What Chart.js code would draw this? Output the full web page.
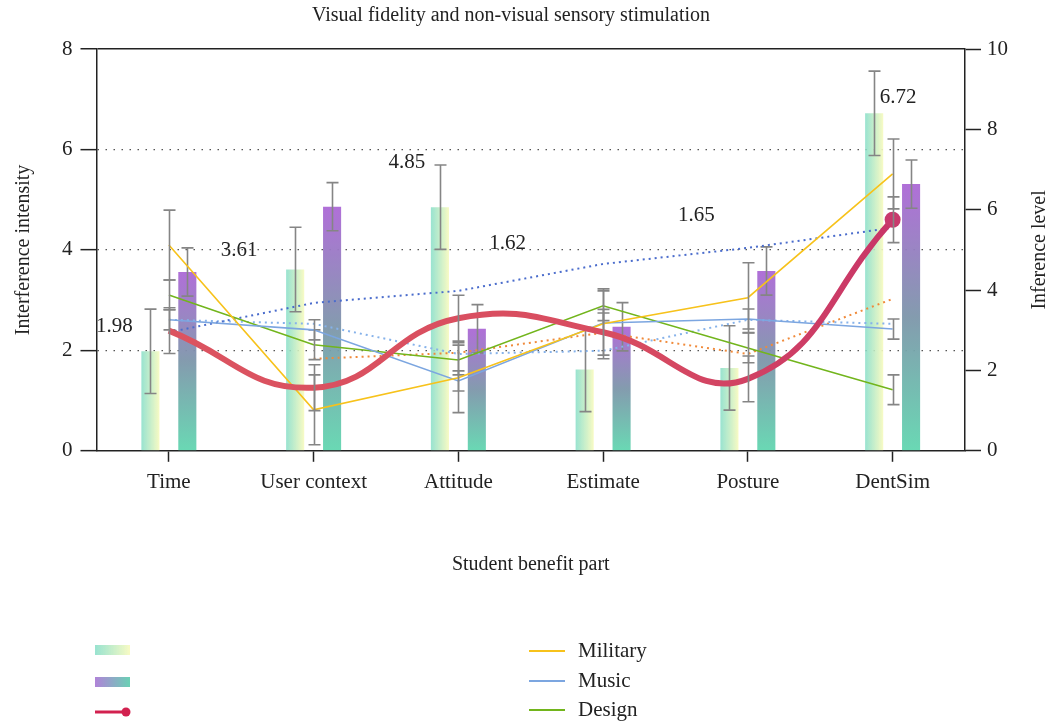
<!DOCTYPE html>
<html>
<head>
<meta charset="utf-8">
<script src="https://cdn.jsdelivr.net/npm/chart.js@4.4.0/dist/chart.umd.min.js"></script>
<style>
  html, body { margin: 0; padding: 0; background: #fff; }
</style>
</head>
<body>
<canvas id="chart" width="1048" height="723"></canvas>
<script>
// Chart data
const categories = ['Time', 'User context', 'Attitude', 'Estimate', 'Posture', 'DentSim'];

// bars, left axis (interference intensity)
const fidelityBars = [1.98, 3.61, 4.85, 1.62, 1.65, 6.72];
const fidelityErr = [0.84, 0.84, 0.84, 0.84, 0.84, 0.84];
const stimulationBars = [3.56, 4.86, 2.43, 2.47, 3.58, 5.31];
const stimulationErr = [0.48, 0.48, 0.48, 0.48, 0.48, 0.48];

// lines, right axis (inference level)
const redCurve = [2.99, 1.57, 3.30, 2.95, 1.79, 5.75];
const redErr = [0.57, 0.57, 0.57, 0.57, 0.57, 0.57];
const military = [5.12, 1.02, 1.82, 3.16, 3.81, 6.89];
const militaryErr = [0.87, 0.87, 0.87, 0.87, 0.87, 0.87];
const music = [3.26, 3.01, 1.74, 3.18, 3.28, 3.03];
const musicErr = [0.25, 0.25, 0.25, 0.25, 0.25, 0.25];
const design = [3.88, 2.64, 2.26, 3.61, 2.56, 1.52];
const designErr = [0.37, 0.37, 0.37, 0.37, 0.37, 0.37];
const blueDotted = [2.95, 3.68, 3.98, 4.65, 5.05, 5.55];
const skyDotted = [3.26, 3.16, 2.41, 2.49, 3.26, 3.16];
const orangeDotted = [null, 2.29, 2.44, 2.94, 2.41, 3.78];

const leftTicks = [0, 2, 4, 6, 8];
const rightTicks = [0, 2, 4, 6, 8, 10];

// value labels next to the first bar series (pixel offsets from bar top)
const labelOffsets = [[-36, -25], [-56, -19], [-33, -45], [-77, -126], [-33, -152], [24, -16]];

const serif = "'Liberation Serif', 'DejaVu Serif', serif";
Chart.defaults.font.family = serif;
Chart.defaults.color = '#222';

const errorSets = {};  // dataset index -> error array

// gradients per bar, set once the bars have their geometry
const barGradients = {
    id: 'barGradients',
    beforeDatasetsDraw(chart) {
        const ctx = chart.ctx;
        chart.data.datasets.forEach((ds, i) => {
            if (!ds.gradientKind) return;
            chart.getDatasetMeta(i).data.forEach(el => {
                let g;
                if (ds.gradientKind === 'horizontal') {
                    g = ctx.createLinearGradient(el.x - el.width / 2, 0, el.x + el.width / 2, 0);
                    g.addColorStop(0, 'rgba(135, 222, 200, 0.85)');
                    g.addColorStop(1, 'rgba(247, 250, 190, 0.9)');
                } else {
                    g = ctx.createLinearGradient(0, el.y, 0, el.base);
                    g.addColorStop(0, 'rgba(172, 104, 214, 0.95)');
                    g.addColorStop(0.5, 'rgba(125, 150, 170, 0.95)');
                    g.addColorStop(1, 'rgba(98, 214, 176, 0.95)');
                }
                el.options.backgroundColor = g;
            });
        });
    }
};

const errorBars = {
    id: 'errorBars',
    afterDatasetDraw(chart, args) {
        const errs = errorSets[args.index];
        if (!errs) return;
        const ds = chart.data.datasets[args.index];
        const yScale = chart.scales[args.meta.yAxisID];
        const ctx = chart.ctx;
        ctx.save();
        ctx.strokeStyle = '#858585';
        ctx.lineWidth = 1.6;
        args.meta.data.forEach((el, i) => {
            const v = ds.data[i];
            if (v == null) return;
            const top = yScale.getPixelForValue(v + errs[i]);
            const bot = yScale.getPixelForValue(v - errs[i]);
            const x = Math.round(el.x) + 0.5;
            ctx.beginPath();
            ctx.moveTo(x, top); ctx.lineTo(x, bot);
            ctx.moveTo(x - 6, top); ctx.lineTo(x + 6, top);
            ctx.moveTo(x - 6, bot); ctx.lineTo(x + 6, bot);
            ctx.stroke();
        });
        ctx.restore();
    }
};

const valueLabels = {
    id: 'valueLabels',
    afterDatasetsDraw(chart) {
        const ctx = chart.ctx;
        const meta = chart.getDatasetMeta(7);
        ctx.save();
        ctx.font = '21px ' + serif;
        ctx.fillStyle = '#222';
        ctx.textAlign = 'center';
        ctx.textBaseline = 'middle';
        meta.data.forEach((el, i) => {
            const o = labelOffsets[i];
            ctx.fillText(fidelityBars[i].toFixed(2), el.x + o[0], el.y + o[1]);
        });
        ctx.restore();
    }
};

const sideLegend = {
    id: 'sideLegend',
    afterDraw(chart) {
        const ctx = chart.ctx;
        ctx.save();
        // left column: swatches only
        let g = ctx.createLinearGradient(95, 0, 130, 0);
        g.addColorStop(0, 'rgba(135, 222, 200, 0.85)');
        g.addColorStop(1, 'rgba(247, 250, 190, 0.9)');
        ctx.fillStyle = g;
        ctx.fillRect(95, 645, 35, 10);
        g = ctx.createLinearGradient(95, 0, 130, 0);
        g.addColorStop(0, 'rgba(172, 124, 214, 0.95)');
        g.addColorStop(1, 'rgba(98, 206, 176, 0.95)');
        ctx.fillStyle = g;
        ctx.fillRect(95, 677, 35, 10);
        ctx.strokeStyle = '#d2214f';
        ctx.lineWidth = 3;
        ctx.beginPath(); ctx.moveTo(95, 712); ctx.lineTo(125, 712); ctx.stroke();
        ctx.fillStyle = '#d2214f';
        ctx.beginPath(); ctx.arc(126, 712, 4.5, 0, Math.PI * 2); ctx.fill();

        // right column: line series
        const items = [['Military', '#f7c21b', 651], ['Music', '#7ca6e0', 681], ['Design', '#72b51c', 710]];
        ctx.font = '21px ' + serif;
        ctx.textBaseline = 'middle';
        ctx.lineWidth = 2;
        items.forEach(([txt, col, y]) => {
            ctx.strokeStyle = col;
            ctx.beginPath(); ctx.moveTo(529, y); ctx.lineTo(565, y); ctx.stroke();
            ctx.fillStyle = '#222';
            ctx.fillText(txt, 578, y);
        });

        // right axis title, reads bottom to top like the left one
        ctx.translate(1040, (chart.chartArea.top + chart.chartArea.bottom) / 2);
        ctx.rotate(-Math.PI / 2);
        ctx.textAlign = 'center';
        ctx.textBaseline = 'middle';
        ctx.font = '20px ' + serif;
        ctx.fillText('Inference level', 0, 0);
        ctx.restore();
    }
};

function lineSet(label, data, color, yAxis, extra) {
    return Object.assign({
        type: 'line',
        label: label,
        data: data,
        yAxisID: yAxis,
        borderColor: color,
        backgroundColor: color,
        borderWidth: 1.6,
        pointRadius: 0,
        tension: 0,
        fill: false,
        spanGaps: false,
        order: 2
    }, extra || {});
}

const ctx = document.getElementById('chart').getContext('2d');

const datasets = [
    lineSet('Red', redCurve, '#d8505f', 'y1', {
        borderWidth: 6,
        tension: 0.45,
        order: 0,
        borderColor: (c) => {
            const a = c.chart.chartArea;
            if (!a) return '#d8505f';
            const g = c.chart.ctx.createLinearGradient(a.left, 0, a.right, 0);
            g.addColorStop(0, '#dc5560');
            g.addColorStop(0.6, '#d84c60');
            g.addColorStop(1, '#c4306a');
            return g;
        },
        pointRadius: (c) => c.dataIndex === redCurve.length - 1 ? 8 : 0,
        pointBackgroundColor: '#c83a6c',
        pointBorderWidth: 0
    }),
    lineSet('Military', military, '#f7c21b', 'y1'),
    lineSet('Music', music, '#7ca6e0', 'y1'),
    lineSet('Design', design, '#72b51c', 'y1'),
    lineSet('Trend', blueDotted, '#4a6ccc', 'y1', { borderDash: [2, 4], borderWidth: 2 }),
    lineSet('Music trend', skyDotted, '#86b2ea', 'y1', { borderDash: [2, 4], borderWidth: 2 }),
    lineSet('Orange trend', orangeDotted, '#f08a3a', 'y1', { borderDash: [2, 4], borderWidth: 2 }),
    {
        type: 'bar',
        label: 'Visual fidelity',
        data: fidelityBars,
        yAxisID: 'y',
        gradientKind: 'horizontal',
        backgroundColor: () => '#9fe6d2',
        borderWidth: 0,
        categoryPercentage: 0.51,
        barPercentage: 0.49,
        order: 5
    },
    {
        type: 'bar',
        label: 'Non-visual stimulation',
        data: stimulationBars,
        yAxisID: 'y',
        gradientKind: 'vertical',
        backgroundColor: () => '#8a9ab8',
        borderWidth: 0,
        categoryPercentage: 0.51,
        barPercentage: 0.49,
        order: 5
    }
];

errorSets[0] = redErr;
errorSets[1] = militaryErr;
errorSets[2] = musicErr;
errorSets[3] = designErr;
errorSets[7] = fidelityErr;
errorSets[8] = stimulationErr;

new Chart(ctx, {
    type: 'bar',
    data: { labels: categories, datasets: datasets },
    options: {
        responsive: false,
        animation: false,
        layout: { padding: { left: 8, right: 34, top: 0, bottom: 142 } },
        plugins: {
            legend: { display: false },
            tooltip: { enabled: false },
            title: {
                display: true,
                text: 'Visual fidelity and non-visual sensory stimulation',
                font: { size: 20, weight: 'normal' },
                color: '#222',
                padding: { top: 4, bottom: 21 }
            }
        },
        scales: {
            x: {
                offset: true,
                grid: { offset: false, drawOnChartArea: false, tickLength: 11, tickWidth: 1.5, tickColor: '#222' },
                border: { color: '#222', width: 1.5 },
                ticks: { font: { size: 21 }, padding: 8, color: '#222' },
                title: { display: true, text: 'Student benefit part', font: { size: 20 }, color: '#222', padding: { top: 50 } }
            },
            y: {
                position: 'left',
                min: 0,
                max: 8,
                afterBuildTicks: (s) => { s.ticks = leftTicks.map(v => ({ value: v })); },
                grid: {
                    color: (c) => c.tick && c.tick.value === 0 ? 'rgba(0,0,0,0)' : (c.tick && c.tick.value === 8 ? '#222' : '#555'),
                    lineWidth: (c) => c.tick && c.tick.value === 8 ? 1.5 : 1.3,
                    tickLength: 16,
                    tickWidth: 1.5,
                    tickColor: '#222'
                },
                border: {
                    color: '#222',
                    width: 1.5,
                    dash: (c) => (!c.tick || c.tick.value === 8) ? [] : [1.5, 6.5]
                },
                ticks: { font: { size: 21 }, padding: 8, color: '#222' },
                title: { display: true, text: 'Interference intensity', font: { size: 20 }, color: '#222', padding: { bottom: 18 } }
            },
            y1: {
                position: 'right',
                min: 0,
                max: 10,
                afterBuildTicks: (s) => { s.ticks = rightTicks.map(v => ({ value: v })); },
                grid: { drawOnChartArea: false, tickLength: 16, tickWidth: 1.5, tickColor: '#222' },
                border: { color: '#222', width: 1.5 },
                ticks: { font: { size: 21 }, padding: 6, color: '#222' }
            }
        }
    },
    plugins: [barGradients, errorBars, valueLabels, sideLegend]
});
</script>
</body>
</html>
